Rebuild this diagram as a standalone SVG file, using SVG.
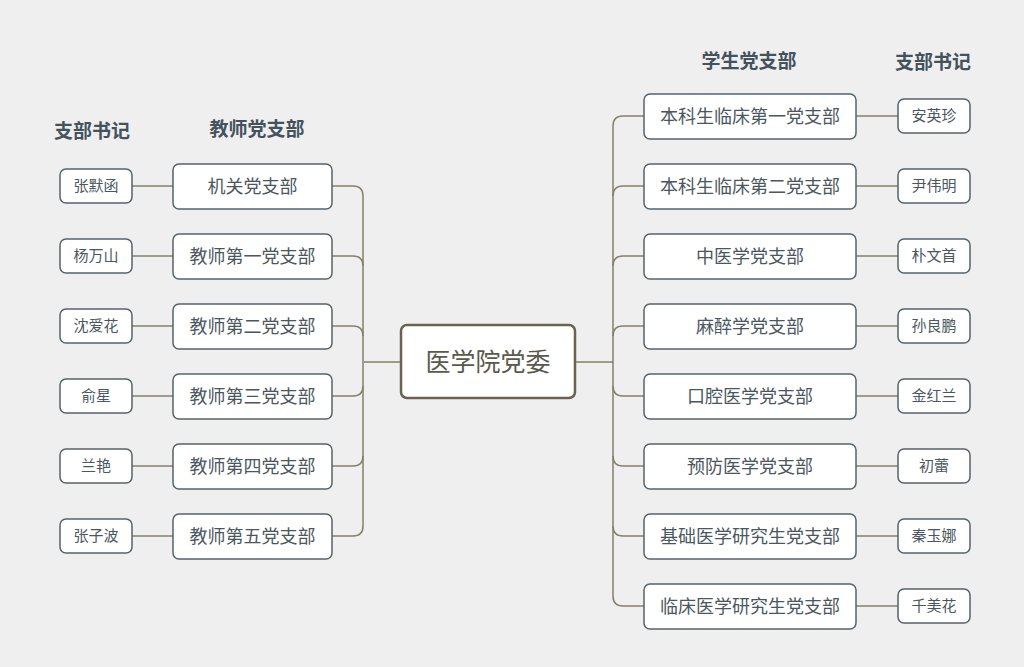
<svg xmlns="http://www.w3.org/2000/svg" width="1024" height="667" viewBox="0 0 1024 667">
<style>
.bg{fill:#efefef}
.node{fill:#ffffff;stroke:#55636b;stroke-width:1.5}
.root{fill:#ffffff;stroke:#6b6350;stroke-width:2.5}
.t{font-family:"Noto Sans CJK SC","Noto Sans",sans-serif;fill:#4b5760;text-anchor:middle;dominant-baseline:central}
.b{font-size:18px}
.s{font-size:15px}
.r{font-size:25px;fill:#5a5a4c}
.h{font-size:19px;font-weight:bold;fill:#44525c}
.c{fill:none;stroke:#857f6c;stroke-width:1.5}
</style>
<rect class="bg" x="0" y="0" width="1024" height="667"/>
<g id="headers">
<text class="t h" x="92" y="129">支部书记</text>
<text class="t h" x="257" y="127">教师党支部</text>
<text class="t h" x="749" y="59">学生党支部</text>
<text class="t h" x="933" y="60">支部书记</text>
</g>
<g id="connectors">
<path class="c" d="M364 362 H401"/>
<path class="c" d="M363 196 V526"/>
<path class="c" d="M332 186 H353 Q363 186 363 196"/>
<path class="c" d="M332 256 H353 Q363 256 363 266"/>
<path class="c" d="M332 326 H353 Q363 326 363 336"/>
<path class="c" d="M332 396 H353 Q363 396 363 386"/>
<path class="c" d="M332 466 H353 Q363 466 363 456"/>
<path class="c" d="M332 536 H353 Q363 536 363 526"/>
<path class="c" d="M132 186 H173"/>
<path class="c" d="M132 256 H173"/>
<path class="c" d="M132 326 H173"/>
<path class="c" d="M132 396 H173"/>
<path class="c" d="M132 466 H173"/>
<path class="c" d="M132 536 H173"/>
<path class="c" d="M575 362 H613"/>
<path class="c" d="M613 126 V596"/>
<path class="c" d="M644 116 H623 Q613 116 613 126"/>
<path class="c" d="M644 186 H623 Q613 186 613 196"/>
<path class="c" d="M644 256 H623 Q613 256 613 266"/>
<path class="c" d="M644 326 H623 Q613 326 613 336"/>
<path class="c" d="M644 396 H623 Q613 396 613 386"/>
<path class="c" d="M644 466 H623 Q613 466 613 456"/>
<path class="c" d="M644 536 H623 Q613 536 613 526"/>
<path class="c" d="M644 606 H623 Q613 606 613 596"/>
<path class="c" d="M856 116 H898"/>
<path class="c" d="M856 186 H898"/>
<path class="c" d="M856 256 H898"/>
<path class="c" d="M856 326 H898"/>
<path class="c" d="M856 396 H898"/>
<path class="c" d="M856 466 H898"/>
<path class="c" d="M856 536 H898"/>
<path class="c" d="M856 606 H898"/>
</g>
<g id="root"><rect class="root" x="401" y="325" width="174" height="73" rx="6"/><text class="t r" x="488" y="360">医学院党委</text></g>
<g id="t1"><rect class="node" x="173" y="164" width="159" height="45" rx="6"/><text class="t b" x="252.5" y="185">机关党支部</text></g>
<g id="t2"><rect class="node" x="173" y="234" width="159" height="45" rx="6"/><text class="t b" x="252.5" y="255">教师第一党支部</text></g>
<g id="t3"><rect class="node" x="173" y="304" width="159" height="45" rx="6"/><text class="t b" x="252.5" y="325">教师第二党支部</text></g>
<g id="t4"><rect class="node" x="173" y="374" width="159" height="45" rx="6"/><text class="t b" x="252.5" y="395">教师第三党支部</text></g>
<g id="t5"><rect class="node" x="173" y="444" width="159" height="45" rx="6"/><text class="t b" x="252.5" y="465">教师第四党支部</text></g>
<g id="t6"><rect class="node" x="173" y="514" width="159" height="45" rx="6"/><text class="t b" x="252.5" y="535">教师第五党支部</text></g>
<g id="ts1"><rect class="node" x="60" y="169" width="72" height="34" rx="6"/><text class="t s" x="96" y="184">张默函</text></g>
<g id="ts2"><rect class="node" x="60" y="239" width="72" height="34" rx="6"/><text class="t s" x="96" y="254">杨万山</text></g>
<g id="ts3"><rect class="node" x="60" y="309" width="72" height="34" rx="6"/><text class="t s" x="96" y="324">沈爱花</text></g>
<g id="ts4"><rect class="node" x="60" y="379" width="72" height="34" rx="6"/><text class="t s" x="96" y="394">俞星</text></g>
<g id="ts5"><rect class="node" x="60" y="449" width="72" height="34" rx="6"/><text class="t s" x="96" y="464">兰艳</text></g>
<g id="ts6"><rect class="node" x="60" y="519" width="72" height="34" rx="6"/><text class="t s" x="96" y="534">张子波</text></g>
<g id="s1"><rect class="node" x="644" y="94" width="212" height="45" rx="6"/><text class="t b" x="750" y="115">本科生临床第一党支部</text></g>
<g id="s2"><rect class="node" x="644" y="164" width="212" height="45" rx="6"/><text class="t b" x="750" y="185">本科生临床第二党支部</text></g>
<g id="s3"><rect class="node" x="644" y="234" width="212" height="45" rx="6"/><text class="t b" x="750" y="255">中医学党支部</text></g>
<g id="s4"><rect class="node" x="644" y="304" width="212" height="45" rx="6"/><text class="t b" x="750" y="325">麻醉学党支部</text></g>
<g id="s5"><rect class="node" x="644" y="374" width="212" height="45" rx="6"/><text class="t b" x="750" y="395">口腔医学党支部</text></g>
<g id="s6"><rect class="node" x="644" y="444" width="212" height="45" rx="6"/><text class="t b" x="750" y="465">预防医学党支部</text></g>
<g id="s7"><rect class="node" x="644" y="514" width="212" height="45" rx="6"/><text class="t b" x="750" y="535">基础医学研究生党支部</text></g>
<g id="s8"><rect class="node" x="644" y="584" width="212" height="45" rx="6"/><text class="t b" x="750" y="605">临床医学研究生党支部</text></g>
<g id="ss1"><rect class="node" x="898" y="99" width="72" height="34" rx="6"/><text class="t s" x="934" y="114">安英珍</text></g>
<g id="ss2"><rect class="node" x="898" y="169" width="72" height="34" rx="6"/><text class="t s" x="934" y="184">尹伟明</text></g>
<g id="ss3"><rect class="node" x="898" y="239" width="72" height="34" rx="6"/><text class="t s" x="934" y="254">朴文首</text></g>
<g id="ss4"><rect class="node" x="898" y="309" width="72" height="34" rx="6"/><text class="t s" x="934" y="324">孙良鹏</text></g>
<g id="ss5"><rect class="node" x="898" y="379" width="72" height="34" rx="6"/><text class="t s" x="934" y="394">金红兰</text></g>
<g id="ss6"><rect class="node" x="898" y="449" width="72" height="34" rx="6"/><text class="t s" x="934" y="464">初蕾</text></g>
<g id="ss7"><rect class="node" x="898" y="519" width="72" height="34" rx="6"/><text class="t s" x="934" y="534">秦玉娜</text></g>
<g id="ss8"><rect class="node" x="898" y="589" width="72" height="34" rx="6"/><text class="t s" x="934" y="604">千美花</text></g>
</svg>
